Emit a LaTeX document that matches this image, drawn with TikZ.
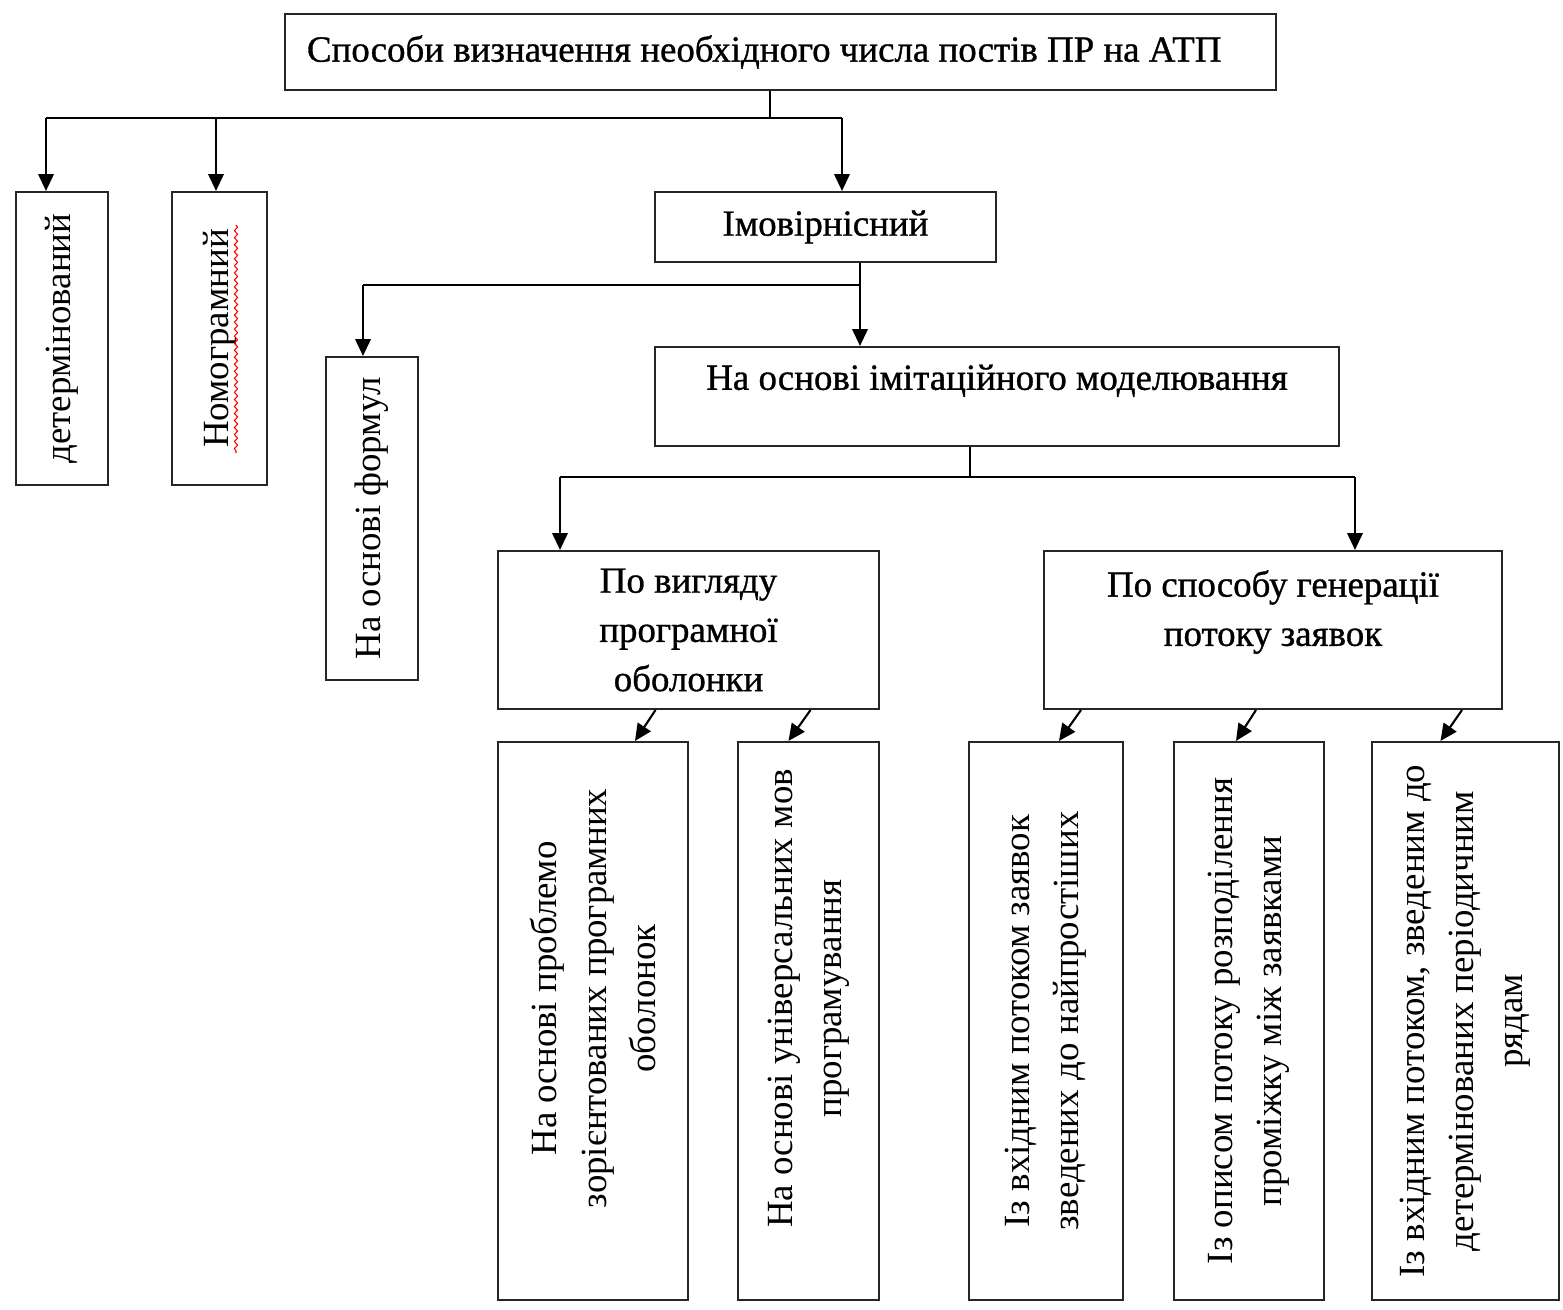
\documentclass[tikz,border=0pt]{standalone}
\usepackage{fontspec}
\setmainfont{Liberation Serif}
\newfontfamily\heavyfont[FakeBold=0.9]{Liberation Serif}
\usetikzlibrary{arrows.meta,decorations.pathmorphing}

\begin{document}
\begin{tikzpicture}[
    font=\fontsize{10.5}{14}\selectfont,
    box/.style={draw=black!85, line width=0.6pt, inner sep=0pt, align=center},
    hbox/.style={box, font=\fontsize{10.5}{14}\heavyfont},
    vertbox/.style={box, rotate=90},
    link/.style={line width=0.6pt},
    arrow/.style={link, -{Triangle[length=4.8pt, width=4.4pt]}}
  ]
  \useasboundingbox (0,0) rectangle (15.63,-13.10);

  % Root of the classification
  \node[hbox, minimum width=9.91cm, minimum height=0.76cm, text width=9.47cm, align=flush left] (root) at (7.805,-0.52)
    {Способи визначення необхідного числа постів ПР на АТП};

  % First level
  \node[vertbox, minimum width=2.93cm, minimum height=0.92cm] (det) at (0.62,-3.385) {детермінований};
  \node[vertbox, minimum width=2.93cm, minimum height=0.95cm] (nomo) at (2.195,-3.385) {Номограмний};
  \node[hbox, minimum width=3.41cm, minimum height=0.70cm] (prob) at (8.255,-2.27) {Імовірнісний};

  % Spell-check underline of the nomogram label
  \draw[red, line width=0.3pt, decorate, decoration={snake, amplitude=0.45pt, segment length=2pt}]
    (2.36,-2.25) -- (2.36,-4.53);

  % Second level
  \node[vertbox, minimum width=3.23cm, minimum height=0.92cm] (formul) at (3.72,-5.185) {На основі формул};
  \node[hbox, minimum width=6.84cm, minimum height=0.99cm, text depth=11pt] (simul) at (9.97,-3.965)
    {На основі імітаційного моделювання};

  % Third level
  \node[hbox, minimum width=3.81cm, minimum height=1.58cm] (shell) at (6.885,-6.30)
    {По вигляду\\програмної\\оболонки};
  \node[hbox, minimum width=4.58cm, minimum height=1.58cm, text depth=12.5pt] (flow) at (12.73,-6.30)
    {По способу генерації\\потоку заявок};

  % Leaves
  \node[vertbox, minimum width=5.58cm, minimum height=1.90cm] (shA) at (5.93,-10.21)
    {\hspace*{0.45cm}На основі проблемо\\\hspace*{0.45cm}зорієнтованих програмних\\\hspace*{0.45cm}оболонок};
  \node[vertbox, minimum width=5.58cm, minimum height=1.41cm] (shB) at (8.085,-10.21)
    {\hspace*{0.45cm}На основі універсальних мов\\\hspace*{0.45cm}програмування};
  \node[vertbox, minimum width=5.58cm, minimum height=1.54cm] (flA) at (10.46,-10.21)
    {Із вхідним потоком заявок\\зведених до найпростіших};
  \node[vertbox, minimum width=5.58cm, minimum height=1.50cm] (flB) at (12.49,-10.21)
    {Із описом потоку розподілення\\проміжку між заявками};
  \node[vertbox, minimum width=5.58cm, minimum height=1.87cm] (flC) at (14.655,-10.21)
    {Із вхідним потоком, зведеним до\\детермінованих періодичним\\рядам};

  % Bus under the root
  \coordinate (rootbus) at (7.70,-1.18);
  \coordinate (busdet) at (0.46,-1.18);
  \coordinate (busnomo) at (2.16,-1.18);
  \coordinate (busprob) at (8.42,-1.18);
  \draw[link] (rootbus |- root.south) -- (rootbus);
  \draw[link] (busdet) -- (busprob);
  \draw[arrow] (busdet) -- (busdet |- det.east);
  \draw[arrow] (busnomo) -- (busnomo |- nomo.east);
  \draw[arrow] (busprob) -- (busprob |- prob.north);

  % Bus under the probabilistic method
  \coordinate (probbus) at (8.60,-2.85);
  \coordinate (busformul) at (3.63,-2.85);
  \draw[arrow] (probbus |- prob.south) -- (probbus |- simul.north);
  \draw[link] (busformul) -- (probbus);
  \draw[arrow] (busformul) -- (busformul |- formul.east);

  % Bus under the simulation
  \coordinate (simbus) at (9.70,-4.77);
  \coordinate (busshell) at (5.60,-4.77);
  \coordinate (busflow) at (13.55,-4.77);
  \draw[link] (simbus |- simul.south) -- (simbus);
  \draw[link] (busshell) -- (busflow);
  \draw[arrow] (busshell) -- (busshell |- shell.north);
  \draw[arrow] (busflow) -- (busflow |- flow.north);

  % Short links to the leaves
  \draw[arrow] ([xshift=-0.33cm]shell.south) -- ([xshift=0.42cm]shA.east);
  \draw[arrow] ([xshift=1.22cm]shell.south) -- ([xshift=-0.20cm]shB.east);
  \draw[arrow] ([xshift=-1.92cm]flow.south) -- ([xshift=0.13cm]flA.east);
  \draw[arrow] ([xshift=-0.17cm]flow.south) -- ([xshift=-0.13cm]flB.east);
  \draw[arrow] ([xshift=1.89cm]flow.south) -- ([xshift=-0.25cm]flC.east);

\end{tikzpicture}
\end{document}
